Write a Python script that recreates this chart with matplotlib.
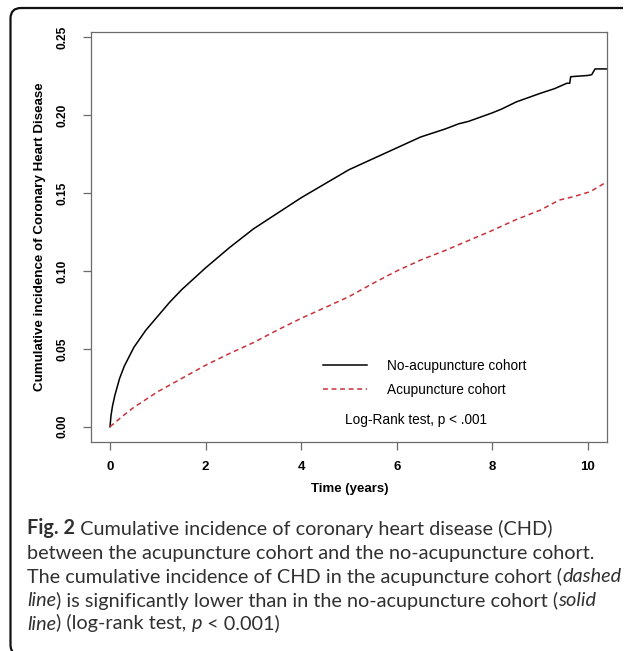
import matplotlib
matplotlib.use("Agg")
import matplotlib.pyplot as plt
from matplotlib.path import Path
from matplotlib.patches import PathPatch
from matplotlib.lines import Line2D

# ---- data ----
no_acu_t = [0.0, 0.02, 0.05, 0.10, 0.20, 0.30, 0.50, 0.75, 1.00, 1.25, 1.50, 1.75, 2.00,
            2.50, 3.00, 3.50, 4.00, 4.50, 5.00, 5.50, 6.00, 6.50, 7.00, 7.30, 7.50, 8.00,
            8.20, 8.50, 9.00, 9.30, 9.56, 9.62, 9.64, 10.00, 10.08, 10.15, 10.40]
no_acu_v = [0.0, 0.007, 0.013, 0.020, 0.031, 0.039, 0.051, 0.062, 0.071, 0.080, 0.088,
            0.095, 0.102, 0.115, 0.127, 0.137, 0.147, 0.156, 0.165, 0.172, 0.179, 0.186,
            0.191, 0.1945, 0.196, 0.2015, 0.2040, 0.2085, 0.2140, 0.2170, 0.2205, 0.2205,
            0.2247, 0.2255, 0.2260, 0.2297, 0.2297]
acu_t = [0.0, 0.25, 0.50, 1.00, 1.50, 2.00, 2.50, 3.00, 3.50, 4.00, 4.50, 5.00, 5.50,
         6.00, 6.50, 7.00, 7.50, 8.00, 8.50, 9.00, 9.40, 9.70, 10.05, 10.40]
acu_v = [0.0, 0.0065, 0.0125, 0.0225, 0.0310, 0.0395, 0.0470, 0.0540, 0.0620, 0.0696,
         0.0765, 0.0835, 0.0920, 0.1000, 0.1070, 0.1130, 0.1195, 0.1260, 0.1330, 0.1390,
         0.1455, 0.1477, 0.1509, 0.1573]
series_labels = ["No-acupuncture cohort", "Acupuncture cohort"]
x_ticks = [0, 2, 4, 6, 8, 10]
y_ticks = [0.00, 0.05, 0.10, 0.15, 0.20, 0.25]
y_tick_labels = ["0.00", "0.05", "0.10", "0.15", "0.20", "0.25"]
x_label = "Time (years)"
y_label = "Cumulative incidence of Coronary Heart Disease"
annot = "Log-Rank test, p < .001"

W, H = 625, 651
fig = plt.figure(figsize=(W / 100, H / 100), dpi=100)
fig.patch.set_facecolor("white")

def fx(px):
    return px / W

def fy(py):
    return 1 - py / H

# ---- axes ----
L, R, T, B = 91, 607, 32, 441.7
ax = fig.add_axes([fx(L), fy(B), fx(R) - fx(L), fy(T) - fy(B)])
ax.plot(no_acu_t, no_acu_v, color="black", lw=1.1)
ax.plot(acu_t, acu_v, color="#c8323a", lw=1.1, dashes=(3.2, 2.4))
ax.set_xlim(-0.398, 10.40)
ax.set_ylim(-0.0096, 0.2534)

grey = "#6a6a6a"
for s in ax.spines.values():
    s.set_color(grey)
    s.set_linewidth(0.9)
ax.set_xticks(x_ticks)
ax.set_xticklabels([str(v) for v in x_ticks], fontsize=9.5, fontweight="bold",
                   family="Liberation Sans")
ax.set_yticks(y_ticks)
ax.set_yticklabels(y_tick_labels, fontsize=8.6, fontweight="bold",
                   family="Liberation Sans", rotation=90, va="center")
ax.tick_params(axis="both", direction="out", length=6, width=0.9, color=grey)
ax.tick_params(axis="x", pad=8)
ax.tick_params(axis="y", pad=10)

fig.text(fx(350), fy(489), x_label, ha="center", va="center", fontsize=9.5,
         fontweight="bold", family="Liberation Sans")
fig.text(fx(40), fy(237), y_label, ha="center", va="center", rotation=90,
         fontsize=9.6, fontweight="bold", family="Liberation Sans")

handles = [Line2D([], [], color="black", lw=1.1),
           Line2D([], [], color="#c8323a", lw=1.1, dashes=(3.2, 2.4))]
leg = ax.legend(handles, series_labels, loc="upper left",
                bbox_to_anchor=(fx(323), fy(359)), bbox_transform=fig.transFigure,
                frameon=False, borderpad=0, borderaxespad=0, handlelength=3.2,
                handletextpad=1.5, labelspacing=0.72,
                prop={"family": "Liberation Sans", "size": 9.8})
fig.text(fx(345), fy(420), annot, ha="left", va="center", fontsize=9.8,
         family="Liberation Sans")

# ---- outer rounded border ----
verts = [(fx(623), fy(8)), (fx(21), fy(8)), (fx(10.5), fy(8)), (fx(10.5), fy(18.5)),
         (fx(10.5), fy(645)), (fx(10.5), fy(651)), (fx(15), fy(654))]
codes = [Path.MOVETO, Path.LINETO, Path.CURVE3, Path.CURVE3, Path.LINETO,
         Path.CURVE3, Path.CURVE3]
fig.patches.append(PathPatch(Path(verts, codes), transform=fig.transFigure,
                             fill=False, edgecolor="#111111", lw=1.6, figure=fig))

# ---- caption (multi-style pieces laid out in a row) ----
cap_lines = [
    [("Fig. 2", "bold"), (" Cumulative incidence of coronary heart disease (CHD)", "normal")],
    [("between the acupuncture cohort and the no-acupuncture cohort.", "normal")],
    [("The cumulative incidence of CHD in the acupuncture cohort (", "normal"),
     ("dashed", "italic")],
    [("line", "italic"), (") is significantly lower than in the no-acupuncture cohort (", "normal"),
     ("solid", "italic")],
    [("line", "italic"), (") (log-rank test, ", "normal"), ("p", "italic"), (" < 0.001)", "normal")],
]
cap_y = [529, 553, 577, 601, 624]
cap_font = "Lato"
cap_x0 = 27.0
fig.canvas.draw()
renderer = fig.canvas.get_renderer()


def style_kw(style, size):
    kw = dict(fontsize=size, family=cap_font, color="#303030", ha="left", va="baseline",
              fontweight="normal")
    if style == "bold":
        kw["fontweight"] = "bold"
    if style == "italic":
        kw["fontstyle"] = "italic"
    return kw


def line_width(pieces, size):
    w = 0
    for txt, style in pieces:
        t = fig.text(0, 0, txt, **style_kw(style, size))
        w += t.get_window_extent(renderer=renderer).width
        t.remove()
    return w

# fit font size so that the third (longest) line spans the same width as in the reference
size0 = 13.0
cap_size = size0 * (619 - cap_x0) / line_width(cap_lines[2], size0)

for pieces, yc in zip(cap_lines, cap_y):
    x = cap_x0
    for txt, style in pieces:
        t = fig.text(fx(x), fy(yc + 5.5), txt, **style_kw(style, cap_size))
        x += t.get_window_extent(renderer=renderer).width

fig.savefig("out.png", dpi=100, facecolor="white")
